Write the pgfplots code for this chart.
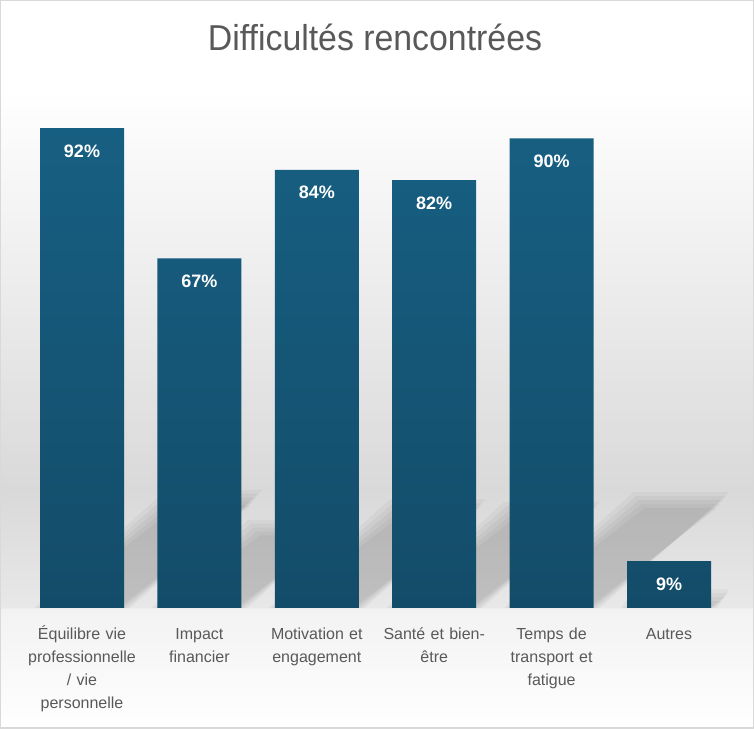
\documentclass[border=0pt]{standalone}
\usepackage{fontspec}
\setmainfont{Liberation Sans}
\usepackage{pgfplots}
\pgfplotsset{compat=1.18}
\definecolor{txtgray}{HTML}{595959}
\definecolor{bordergray}{HTML}{D9D9D9}
\definecolor{barTop}{HTML}{175F82}
\definecolor{barBot}{HTML}{134C69}
\definecolor{bgA}{HTML}{F2F2F2}
\definecolor{bgB}{HTML}{E8E8E8}
\definecolor{bgC}{HTML}{D9D9D9}
\pgfdeclareverticalshading{bgshade}{100bp}{color(0bp)=(white); color(25bp)=(white); color(33.23bp)=(bgA); color(33.37bp)=(bgB); color(41.39bp)=(bgC); color(68.8bp)=(white); color(75bp)=(white); color(100bp)=(white)}
% soft perspective shadow: #1 left x, #2 horizontal skew, #3 height, #4 spread
\newcommand{\shadowlayer}[4]{%
 \fill[black,opacity=0.036] (axis cs:{#1-#4},0) -- (axis cs:{#1+0.716+#4},0) -- (axis cs:{#1+0.716+#2+#4},{#3+#4*30}) -- (axis cs:{#1+#2-#4},{#3+#4*30}) -- cycle;}
\newcommand{\shadowbar}[3]{\shadowlayer{#1}{#2}{#3}{0.05}\shadowlayer{#1}{#2}{#3}{0.025}\shadowlayer{#1}{#2}{#3}{0}\shadowlayer{#1}{#2}{#3}{-0.025}\shadowlayer{#1}{#2}{#3}{-0.05}}
\begin{document}
\begin{tikzpicture}[x=1bp,y=1bp]
\shade[shading=bgshade] (0,0) rectangle (754,729);
\draw[bordergray, line width=1.5bp] (0.75,0.75) rectangle (753.25,728.25);
\node[anchor=base, text=txtgray, inner sep=0pt] at (375,678)
  {\scalebox{0.94}[1]{\fontsize{36bp}{40bp}\selectfont Difficultés rencontrées}};
\begin{axis}[
  at={(23.3bp,121bp)}, anchor=south west,
  scale only axis, width=704.4bp, height=521.7bp,
  xmin=-0.5, xmax=5.5, ymin=0, ymax=100,
  axis line style={draw=none},
  ymajorticks=false,
  major tick length=0pt,
  xtick={0,1,2,3,4,5},
  xticklabels={{Équilibre vie\\professionnelle\\/ vie\\personnelle},{Impact\\financier},{Motivation et\\engagement},{Santé et bien-\\être},{Temps de\\transport et\\fatigue},{Autres}},
  xticklabel style={anchor=base, yshift=-32bp, align=center, text width=125bp, text=txtgray, font=\fontsize{16bp}{23bp}\selectfont},
  ybar, bar width=84bp,
  nodes near coords={\pgfmathprintnumber[assume math mode=true]{\pgfplotspointmeta}\%},
  every node near coord/.append style={anchor=center, yshift=-23bp, text=white, font=\fontsize{18bp}{20bp}\selectfont\bfseries},
  clip=true,
]
\shadowbar{-0.358}{1.129}{21.16}
\shadowbar{0.642}{0.822}{15.41}
\shadowbar{1.642}{1.031}{19.32}
\shadowbar{2.642}{1.006}{18.86}
\shadowbar{3.642}{1.104}{20.7}
\shadowbar{4.642}{0.110}{2.07}
\addplot[draw=none, top color=barTop, bottom color=barBot] coordinates {(0,92) (1,67) (2,84) (3,82) (4,90) (5,9)};
\end{axis}
\end{tikzpicture}
\end{document}
